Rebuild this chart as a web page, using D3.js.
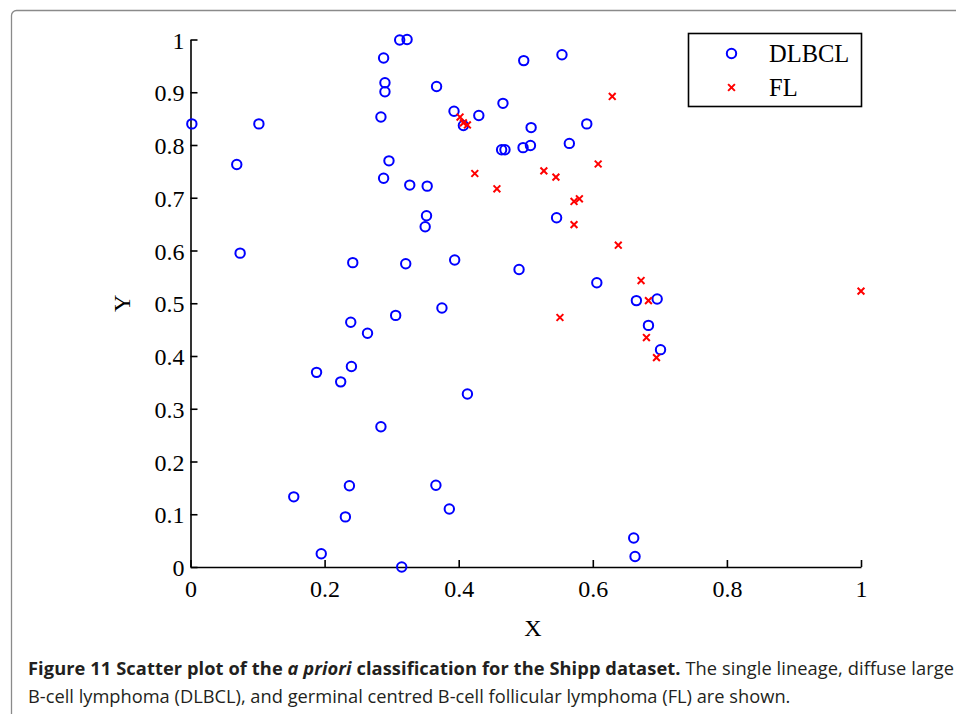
<!DOCTYPE html>
<html>
<head>
<meta charset="utf-8">
<script src="https://cdn.jsdelivr.net/npm/d3@7"></script>
<style>
  body { margin: 0; background: #fff; }
  svg { display: block; }
  .tick text { font-family: "Liberation Serif", "Times New Roman", serif; font-size: 24px; fill: #000; }
</style>
</head>
<body>
<svg id="chart" width="956" height="714"></svg>
<script>
// DLBCL points [x, y]
var dlbcl = [
  [0.002, 0.840], [0.102, 0.840], [0.069, 0.763], [0.074, 0.595],
  [0.288, 0.965], [0.312, 0.999], [0.323, 1.000], [0.290, 0.918],
  [0.290, 0.901], [0.367, 0.911], [0.284, 0.853], [0.296, 0.770],
  [0.288, 0.737], [0.327, 0.724], [0.353, 0.722], [0.352, 0.666],
  [0.350, 0.645], [0.242, 0.577], [0.321, 0.575], [0.394, 0.582],
  [0.393, 0.864], [0.407, 0.837], [0.430, 0.856], [0.466, 0.879],
  [0.497, 0.960], [0.554, 0.971], [0.508, 0.833], [0.591, 0.840],
  [0.565, 0.803], [0.464, 0.791], [0.469, 0.791], [0.496, 0.795],
  [0.507, 0.799], [0.546, 0.662], [0.490, 0.564], [0.606, 0.539],
  [0.239, 0.464], [0.264, 0.443], [0.306, 0.477], [0.375, 0.491],
  [0.188, 0.369], [0.224, 0.351], [0.240, 0.380], [0.413, 0.328],
  [0.284, 0.266], [0.154, 0.133], [0.237, 0.154], [0.231, 0.095],
  [0.366, 0.155], [0.386, 0.110], [0.195, 0.025], [0.315, 0.000],
  [0.665, 0.505], [0.696, 0.508], [0.683, 0.458], [0.701, 0.412],
  [0.661, 0.055], [0.663, 0.020]
];

// FL points [x, y]
var fl = [
  [0.629, 0.892], [0.402, 0.853], [0.407, 0.842], [0.413, 0.838],
  [0.424, 0.746], [0.457, 0.717], [0.527, 0.751], [0.545, 0.739],
  [0.608, 0.764], [0.572, 0.693], [0.580, 0.698], [0.572, 0.649],
  [0.638, 0.610], [0.672, 0.543], [0.683, 0.505], [0.551, 0.473],
  [0.680, 0.435], [0.695, 0.397], [1.000, 0.523]
];

var xTicks = [0, 0.2, 0.4, 0.6, 0.8, 1];
var yTicks = [0, 0.1, 0.2, 0.3, 0.4, 0.5, 0.6, 0.7, 0.8, 0.9, 1];
var legendLabels = ['DLBCL', 'FL'];

var captionBold = 'Figure 11 Scatter plot of the ',
    captionItalic = 'a priori',
    captionBold2 = ' classification for the Shipp dataset.',
    captionRest = ' The single lineage, diffuse large',
    captionLine2 = 'B-cell lymphoma (DLBCL), and germinal centred B-cell follicular lymphoma (FL) are shown.';

//------------------------------------------------------------

var svg = d3.select('#chart');
var blue = '#0000ff', red = '#ff0000';

var x = d3.scaleLinear().domain([0, 1]).range([190.5, 861]);
var y = d3.scaleLinear().domain([0, 1]).range([567, 39.5]);

function fmt(d) { return String(+d.toFixed(1)); }

// figure frame
svg.append('rect')
  .attr('x', 11.5).attr('y', 10.5)
  .attr('width', 970).attr('height', 740)
  .attr('rx', 5)
  .attr('fill', 'none')
  .attr('stroke', '#8a8a8a')
  .attr('stroke-width', 1.3);

// axes
var gx = svg.append('g')
  .attr('transform', 'translate(0,' + y(0) + ')')
  .call(d3.axisBottom(x).tickValues(xTicks).tickFormat(fmt)
    .tickSizeInner(-7).tickSizeOuter(0).tickPadding(8));

var gy = svg.append('g')
  .attr('transform', 'translate(' + x(0) + ',0)')
  .call(d3.axisLeft(y).tickValues(yTicks).tickFormat(fmt)
    .tickSizeInner(-7).tickSizeOuter(0).tickPadding(6));

[gx, gy].forEach(function(g) {
  g.select('.domain').attr('stroke', '#000').attr('stroke-width', 1.6);
  g.selectAll('.tick line').attr('stroke', '#000').attr('stroke-width', 1.6);
  g.attr('font-family', null).attr('font-size', null);
});
gx.selectAll('.tick text').attr('dy', '0.9em');
gy.selectAll('.tick text').attr('dy', '0.36em');

// axis labels
svg.append('text')
  .attr('x', 533).attr('y', 636)
  .attr('text-anchor', 'middle')
  .style('font-family', '"Liberation Serif", serif').style('font-size', '24px')
  .text('X');

svg.append('text')
  .attr('transform', 'translate(130,' + (y(0.5)) + ') rotate(-90)')
  .attr('text-anchor', 'middle')
  .style('font-family', '"Liberation Serif", serif').style('font-size', '24px')
  .text('Y');

// markers
function cross(sel, s) {
  sel.append('path')
    .attr('d', 'M' + (-s) + ',' + (-s) + 'L' + s + ',' + s + 'M' + (-s) + ',' + s + 'L' + s + ',' + (-s))
    .attr('stroke', red)
    .attr('stroke-width', 2)
    .attr('fill', 'none');
}

svg.append('g').selectAll('circle')
  .data(dlbcl)
  .join('circle')
    .attr('cx', function(d) { return x(d[0]); })
    .attr('cy', function(d) { return y(d[1]); })
    .attr('r', 4.7)
    .attr('fill', 'none')
    .attr('stroke', blue)
    .attr('stroke-width', 2);

svg.append('g').selectAll('g')
  .data(fl)
  .join('g')
    .attr('transform', function(d) { return 'translate(' + x(d[0]) + ',' + y(d[1]) + ')'; })
    .each(function() { cross(d3.select(this), 3.4); });

// legend
var legend = svg.append('g');
legend.append('rect')
  .attr('x', 688.5).attr('y', 33.5)
  .attr('width', 173).attr('height', 73)
  .attr('fill', '#fff')
  .attr('stroke', '#000')
  .attr('stroke-width', 1.6);

legend.append('circle')
  .attr('cx', 731.5).attr('cy', 53.5).attr('r', 4.7)
  .attr('fill', 'none').attr('stroke', blue).attr('stroke-width', 2);
cross(legend.append('g').attr('transform', 'translate(731.5,87.5)'), 3.4);

legend.selectAll('text.lg')
  .data(legendLabels)
  .join('text')
    .attr('class', 'lg')
    .attr('x', 769)
    .attr('y', function(d, i) { return 62 + i * 34; })
    .style('font-family', '"Liberation Serif", serif')
    .style('font-size', '24.5px')
    .text(function(d) { return d; });

// caption
var cap = svg.append('g')
  .style('font-family', '"Open Sans", "Noto Sans", sans-serif')
  .style('fill', '#231f20');

var l1 = cap.append('text').attr('x', 28).attr('y', 675);
l1.append('tspan').style('font-weight', 'bold').text(captionBold);
l1.append('tspan').style('font-weight', 'bold').style('font-style', 'italic').text(captionItalic);
l1.append('tspan').style('font-weight', 'bold').text(captionBold2);
l1.append('tspan').text(captionRest);

var l2 = cap.append('text').attr('x', 28).attr('y', 703).text(captionLine2);

// fit caption size to the column width
var fs = 17;
cap.style('font-size', fs + 'px');
var w2 = l2.node().getComputedTextLength();
fs = fs * 763 / w2;
cap.style('font-size', fs + 'px');
// the first line is justified to the full column
l1.attr('textLength', 926).attr('lengthAdjust', 'spacing');
</script>
</body>
</html>
